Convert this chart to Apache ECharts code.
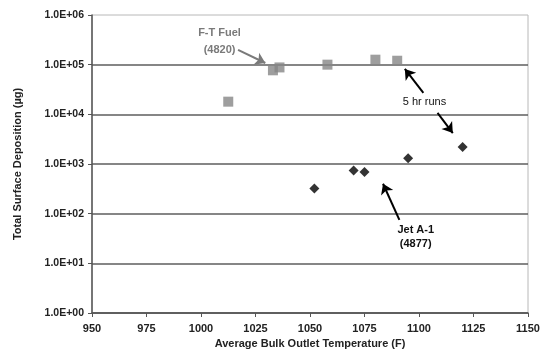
<!DOCTYPE html>
<html>
<head>
<meta charset="utf-8">
<script src="https://cdn.jsdelivr.net/npm/echarts@6/dist/echarts.min.js"></script>
<style>
  html, body { margin: 0; padding: 0; background: #fff; }
  #chart { width: 548px; height: 355px; }
</style>
</head>
<body>
<div id="chart"></div>
<script>
// F-T fuel (4820) runs
const ftTemp = [1012.5, 1033, 1036, 1058, 1080, 1090]
const ftDepo = [18000, 77000, 88000, 100000, 126000, 120000]
// Jet A-1 (4877) runs
const jetTemp = [1052, 1070, 1075, 1095, 1120]
const jetDepo = [320, 740, 690, 1300, 2200]

const xTicks = [950, 975, 1000, 1025, 1050, 1075, 1100, 1125, 1150]
const yTicks = [1, 10, 100, 1000, 10000, 100000, 1000000]

// annotation arrows in data space: [from, to]
const ftArrow = [[1017, 198000], [1029.5, 108000]]
const runArrowUp = [[1102, 27000], [1093.5, 82000]]
const runArrowDown = [[1108.5, 10700], [1115.5, 4200]]
const jetArrow = [[1091, 75], [1083.5, 400]]

const font = 'Liberation Sans, Arial, sans-serif'

function sciLabel(v) {
  const e = Math.round(Math.log10(v))
  return '1.0E+' + (e < 10 ? '0' + e : e)
}

function arrow(pair, color) {
  return [
    { coord: pair[0], lineStyle: { color: color, width: 2, type: 'solid' } },
    { coord: pair[1] }
  ]
}

const chart = echarts.init(document.getElementById('chart'))
const options = {
  animation: false,
  grid: {
    left: 92,
    right: 20,
    top: 15,
    bottom: 42,
    show: true,
    borderColor: '#b8b8b8',
    borderWidth: 1
  },
  xAxis: {
    type: 'value',
    min: xTicks[0],
    max: xTicks[xTicks.length - 1],
    interval: 25,
    name: 'Average Bulk Outlet Temperature (F)',
    nameLocation: 'middle',
    nameGap: 23,
    nameTextStyle: { fontFamily: font, fontWeight: 'bold', fontSize: 11, color: '#222' },
    axisLine: { lineStyle: { color: '#555', width: 1.5 } },
    axisTick: { inside: false, length: 4, lineStyle: { color: '#555' } },
    axisLabel: { fontFamily: font, fontWeight: 'bold', fontSize: 11, color: '#222', margin: 10, formatter: v => String(v) },
    splitLine: { show: false }
  },
  yAxis: {
    type: 'log',
    logBase: 10,
    min: yTicks[0],
    max: yTicks[yTicks.length - 1],
    name: 'Total Surface Deposition (\u00b5g)',
    nameLocation: 'middle',
    nameGap: 69,
    nameTextStyle: { fontFamily: font, fontWeight: 'bold', fontSize: 11, color: '#222' },
    axisLine: { show: true, lineStyle: { color: '#555', width: 1.5 } },
    axisTick: { show: true, length: 4, lineStyle: { color: '#555' } },
    axisLabel: { fontFamily: font, fontWeight: 'bold', fontSize: 10.5, color: '#222', margin: 8, formatter: sciLabel },
    splitLine: { show: true, showMaxLine: false, lineStyle: { color: '#5e5e5e', width: 1.5 } },
    minorTick: { show: false }
  },
  series: [
    {
      name: 'F-T Fuel',
      type: 'scatter',
      symbol: 'rect',
      symbolSize: 10,
      itemStyle: { color: '#868686' },
      data: ftTemp.map((t, i) => [t, ftDepo[i]]),
      markLine: {
        silent: true,
        symbol: ['none', 'arrow'],
        symbolSize: 10,
        label: { show: false },
        data: [arrow(ftArrow, '#7a7a7a')]
      },
      z: 3
    },
    {
      name: 'Jet A-1',
      type: 'scatter',
      symbol: 'diamond',
      symbolSize: 10,
      itemStyle: { color: '#000' },
      data: jetTemp.map((t, i) => [t, jetDepo[i]]),
      markLine: {
        silent: true,
        symbol: ['none', 'arrow'],
        symbolSize: 10,
        label: { show: false },
        data: [arrow(runArrowUp, '#000'), arrow(runArrowDown, '#000'), arrow(jetArrow, '#000')]
      },
      z: 3
    }
  ]
}
chart.setOption(options)

// text annotations anchored in data space
const notes = [
  { at: [1008.5, 430000], text: 'F-T Fuel', color: '#7a7a7a', bold: true },
  { at: [1008.5, 200000], text: '(4820)', color: '#7a7a7a', bold: true },
  { at: [1102.5, 18000], text: '5 hr runs', color: '#111', bold: false },
  { at: [1098.5, 46], text: 'Jet A-1', color: '#111', bold: true },
  { at: [1098.5, 24], text: '(4877)', color: '#111', bold: true }
]
chart.setOption({
  graphic: notes.map(n => {
    const p = chart.convertToPixel({ gridIndex: 0 }, n.at)
    return {
      type: 'text',
      x: p[0],
      y: p[1],
      style: {
        text: n.text,
        fill: n.color,
        font: (n.bold ? 'bold ' : '') + '11px ' + font,
        align: 'center',
        verticalAlign: 'middle'
      },
      z: 10
    }
  })
})
</script>
</body>
</html>
